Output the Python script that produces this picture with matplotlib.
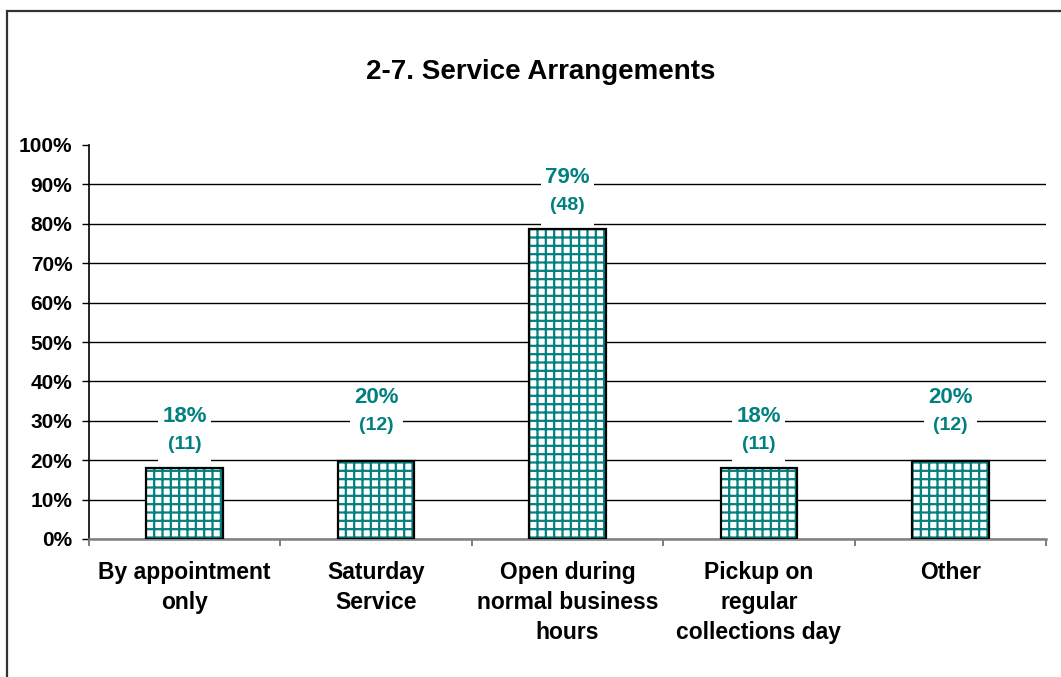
"""2-7. Service Arrangements bar chart"""
import matplotlib
matplotlib.use('Agg')
import matplotlib.pyplot as plt
from matplotlib.offsetbox import AnnotationBbox, DrawingArea, TextArea, VPacker
from matplotlib.patches import Rectangle
import numpy as np

title = '2-7. Service Arrangements'
categories = ['By appointment\nonly', 'Saturday\nService',
              'Open during\nnormal business\nhours', 'Pickup on\nregular\ncollections day',
              'Other']
counts = [11, 12, 48, 11, 12]
respondents = 61
y_ticks = [0, 10, 20, 30, 40, 50, 60, 70, 80, 90, 100]

# the labels of the two 20% bars sit a little higher in the original
label_lift = [0, 9, 0, 0, 9]

TEAL = '#008080'

plt.rcParams['font.family'] = ['Liberation Sans', 'DejaVu Sans']
plt.rcParams['font.weight'] = 'bold'
plt.rcParams['hatch.linewidth'] = 1.6

shares = np.array(counts) / respondents
x = np.arange(len(categories))

fig = plt.figure(figsize=(10.61, 6.77), dpi=100)
ax = fig.add_axes([89 / 1061, 1 - 539 / 677, (1046 - 89) / 1061, (539 - 145) / 677])

# outer chart border (left and top edges only show in the picture)
fig.add_artist(Rectangle((7 / 1061, -0.2), 1.2, 1.2 - 11 / 677, transform=fig.transFigure,
                         fill=False, edgecolor='#333333', linewidth=1.6))

ax.bar(x, shares, width=0.4, facecolor='white', edgecolor=TEAL, hatch='++',
       linewidth=0, zorder=2)
ax.bar(x, shares, width=0.4, fill=False, edgecolor='black', linewidth=1.6, zorder=3)

for xi, share, n, lift in zip(x, shares, counts, label_lift):
    box = VPacker(children=[
        TextArea('{:.0f}%'.format(share * 100),
                 textprops=dict(color=TEAL, fontsize=16, fontweight='bold')),
        TextArea('({})'.format(n),
                 textprops=dict(color=TEAL, fontsize=14, fontweight='bold')),
        DrawingArea(1, 0),
    ], align='center', pad=3, sep=6)
    ab = AnnotationBbox(box, (xi, share), xybox=(0, 2 + lift), xycoords='data',
                        boxcoords='offset points', box_alignment=(0.5, 0),
                        frameon=True, pad=0,
                        bboxprops=dict(facecolor='white', edgecolor='none'),
                        zorder=4)
    ax.add_artist(ab)

ax.set_xlim(-0.5, len(categories) - 0.5)
ax.set_ylim(0, 1)
ax.set_yticks(np.array(y_ticks) / 100)
ax.set_yticklabels(['{}%'.format(t) for t in y_ticks], fontsize=15, fontweight='bold')
ax.set_xticks(x)
ax.set_xticklabels(categories, fontsize=16.5, fontweight='bold', linespacing=1.38)
ax.set_xticks(np.arange(len(categories) + 1) - 0.5, minor=True)
ax.tick_params(axis='x', which='major', length=0, pad=16)
ax.tick_params(axis='x', which='minor', length=5, width=1.2, color='#666666')
ax.tick_params(axis='y', length=5, width=1, color='black', pad=7)

ax.yaxis.grid(True, color='black', linewidth=1)
ax.set_axisbelow(True)
gl = ax.get_ygridlines()
gl[-1].set_visible(False)

for side in ('top', 'right'):
    ax.spines[side].set_visible(False)
ax.spines['left'].set_color('black')
ax.spines['left'].set_linewidth(1.2)
ax.spines['bottom'].set_color('#808080')
ax.spines['bottom'].set_linewidth(1.8)

fig.text(541 / 1061, 1 - 72 / 677, title, ha='center', va='center',
         fontsize=20, fontweight='bold')

fig.savefig('out.png', dpi=100)
